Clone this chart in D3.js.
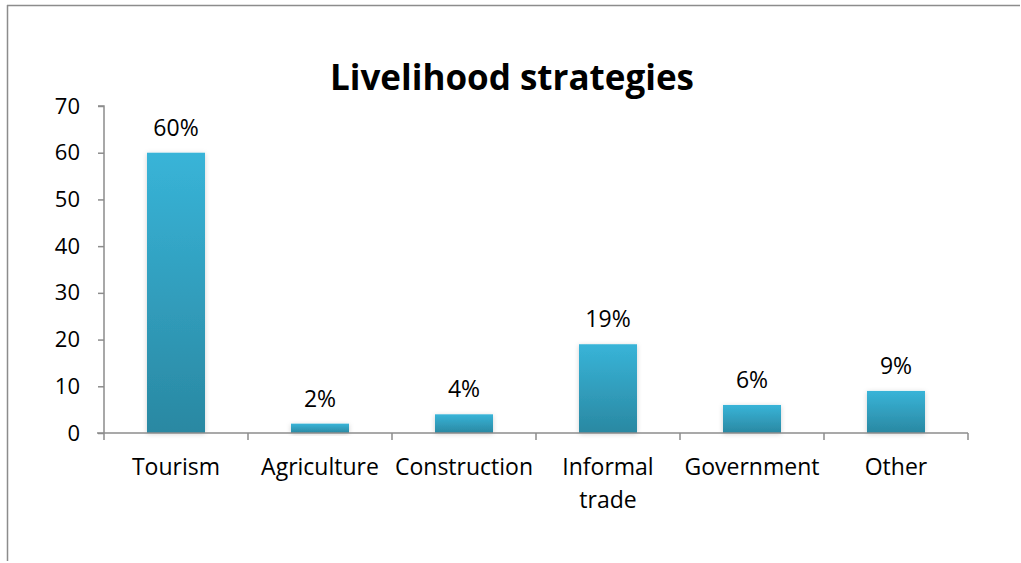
<!DOCTYPE html>
<html>
<head>
<meta charset="utf-8">
<script src="https://cdn.jsdelivr.net/npm/d3@7"></script>
<style>
  html, body { margin: 0; padding: 0; background: #fff; }
  svg { display: block; font-family: "Open Sans", Lato, sans-serif; }
</style>
</head>
<body>
<svg id="chart" width="1021" height="563"></svg>
<script>
// Livelihood strategies: share of respondents by main activity
const categories = ["Tourism", "Agriculture", "Construction", "Informal trade", "Government", "Other"];
const categoryLines = [["Tourism"], ["Agriculture"], ["Construction"], ["Informal", "trade"], ["Government"], ["Other"]];
const shares = [60, 2, 4, 19, 6, 9];
const yTicks = [0, 10, 20, 30, 40, 50, 60, 70];
const chartTitle = "Livelihood strategies";

const svg = d3.select("#chart");
const axisColor = "#8c8c8c";
const fontFamily = "'Open Sans', Lato, sans-serif";
const labelSize = 23;

// Frame lines along the top and left edge
svg.append("line").attr("x1", 7).attr("x2", 1020).attr("y1", 5.5).attr("y2", 5.5)
  .attr("stroke", axisColor).attr("stroke-width", 1.5);
svg.append("line").attr("x1", 7.5).attr("x2", 7.5).attr("y1", 5).attr("y2", 561)
  .attr("stroke", axisColor).attr("stroke-width", 1.5);

const defs = svg.append("defs");
const grad = defs.append("linearGradient").attr("id", "barFill")
  .attr("x1", 0).attr("x2", 0).attr("y1", 0).attr("y2", 1);
grad.append("stop").attr("offset", "0%").attr("stop-color", "#38b4d8");
grad.append("stop").attr("offset", "100%").attr("stop-color", "#2a88a2");

const shadow = defs.append("filter").attr("id", "barShadow")
  .attr("x", "-30%").attr("y", "-30%").attr("width", "160%").attr("height", "160%");
shadow.append("feDropShadow").attr("dx", 0).attr("dy", 1).attr("stdDeviation", 2.5)
  .attr("flood-color", "#000").attr("flood-opacity", 0.18);

const xOuter = d3.scaleBand().domain(categories).range([104, 968]);
const y = d3.scaleLinear().domain([0, 70]).range([433, 106]);
const barWidth = 58;

// Title
svg.append("text").attr("x", 512).attr("y", 90).attr("text-anchor", "middle")
  .attr("font-size", 35).attr("font-weight", "bold").attr("fill", "#000")
  .attr("font-family", fontFamily)
  .text(chartTitle);

// Y axis
const yAxis = svg.append("g").attr("transform", "translate(104,0)")
  .call(d3.axisLeft(y).tickValues(yTicks).tickSize(6).tickPadding(18));
yAxis.select(".domain").attr("stroke", axisColor).attr("stroke-width", 1.5)
  .attr("d", `M-6,${y(70)}H0V${y(0)}`);
yAxis.selectAll(".tick line").attr("stroke", axisColor).attr("stroke-width", 1.5);
yAxis.selectAll(".tick text").attr("font-size", 22).attr("fill", "#000")
  .attr("font-family", fontFamily);

// Bars
svg.append("g").selectAll("rect").data(categories).join("rect")
  .attr("x", d => xOuter(d) + xOuter.bandwidth() / 2 - barWidth / 2)
  .attr("width", barWidth)
  .attr("y", (d, i) => y(shares[i]))
  .attr("height", (d, i) => y(0) - y(shares[i]))
  .attr("fill", "url(#barFill)")
  .attr("filter", "url(#barShadow)");

// X axis with ticks between categories
const xAxis = svg.append("g").attr("transform", `translate(0,${y(0)})`);
xAxis.append("line").attr("x1", 97).attr("x2", 968).attr("y1", 0).attr("y2", 0)
  .attr("stroke", axisColor).attr("stroke-width", 1.5);
const boundaries = categories.map(d => xOuter(d)).concat([xOuter.range()[1]]);
xAxis.selectAll("line.tick").data(boundaries).join("line").attr("class", "tick")
  .attr("x1", d => d).attr("x2", d => d).attr("y1", 0).attr("y2", 7)
  .attr("stroke", axisColor).attr("stroke-width", 1.5);

// Category labels
const labels = svg.append("g").selectAll("text").data(categories).join("text")
  .attr("x", d => xOuter(d) + xOuter.bandwidth() / 2)
  .attr("y", 475)
  .attr("text-anchor", "middle").attr("font-size", labelSize).attr("fill", "#000")
  .attr("font-family", fontFamily);
labels.each(function(d, i) {
  d3.select(this).selectAll("tspan").data(categoryLines[i]).join("tspan")
    .attr("x", xOuter(d) + xOuter.bandwidth() / 2)
    .attr("dy", (t, j) => j === 0 ? 0 : 33)
    .text(t => t);
});

// Value labels
svg.append("g").selectAll("text").data(categories).join("text")
  .attr("x", d => xOuter(d) + xOuter.bandwidth() / 2)
  .attr("y", (d, i) => y(shares[i]) - 17)
  .attr("text-anchor", "middle").attr("font-size", labelSize).attr("fill", "#000")
  .attr("font-family", fontFamily)
  .text((d, i) => shares[i] + "%");
</script>
</body>
</html>
